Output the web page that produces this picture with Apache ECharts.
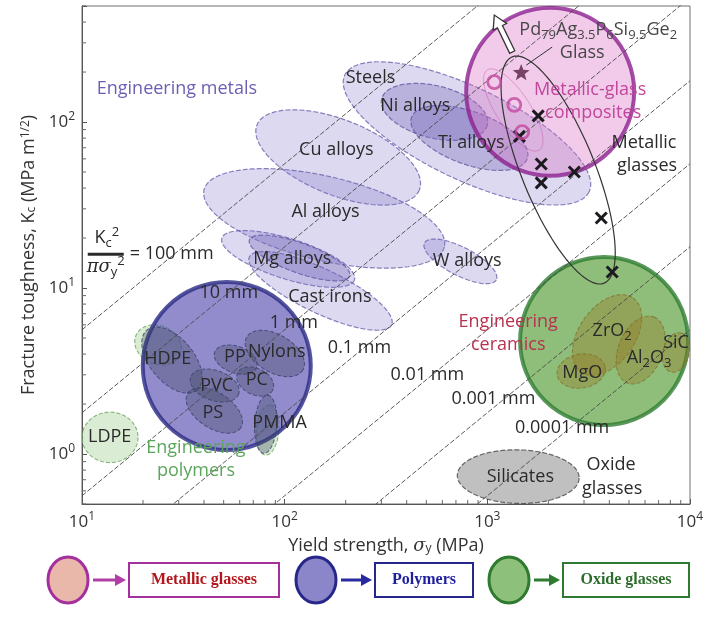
<!DOCTYPE html>
<html>
<head>
<meta charset="utf-8">
<script src="https://cdn.jsdelivr.net/npm/echarts/dist/echarts.min.js"></script>
<style>
html,body{margin:0;padding:0;background:#fff;}
#chart{width:705px;height:624px;}
</style>
</head>
<body>
<div id="chart"></div>
<script>
// ---------- axis decades ----------
const xDecades = [10, 100, 1000, 10000];
const yDecades = [1, 10, 100];

// ---------- design guidelines Kc^2 / (pi * sigma_y^2) = L ----------
const guideLengthsMm = [100, 10, 1, 0.1, 0.01, 0.001, 0.0001];
const guideLabelText = ['10 mm', '1 mm', '0.1 mm', '0.01 mm', '0.001 mm', '0.0001 mm'];
const guideLabelAnchor = [[53, 9.33], [111, 6.15], [234, 4.35], [506, 2.99], [1072, 2.14], [2339, 1.44]];

// ---------- property envelopes ----------
// [name, sigma_y at one end of long axis, Kc there, sigma_y at other end, Kc there, width / length]
const metalEnvelopes = [
  ['Steels', 198, 192, 3180, 38, 0.34],
  ['Cu alloys', 73, 96, 462, 39, 0.43],
  ['Al alloys', 40, 39, 614, 17.7, 0.34],
  ['Mg alloys', 49, 20, 221, 11.2, 0.29],
  ['Cast irons', 67, 15.4, 337, 6.0, 0.28],
  ['W alloys', 490, 18.7, 1107, 11.2, 0.35]
];
const metalCores = [
  ['Ni alloys', 301, 138, 1000, 96, 0.48],
  ['Ti alloys', 423, 107, 1574, 60, 0.43],
  ['Mg alloys core', 67, 19.5, 209, 11.8, 0.28]
];
const polymerBackdrop = [
  ['LDPE', 10, 1.26, 18.9, 1.26, 0.9],
  ['Elastomer side', 18.5, 5.21, 30.4, 3.95, 0.8],
  ['Acrylic side', 80.5, 0.986, 84.4, 1.97, 0.45]
];
const polymerEnvelopes = [
  ['HDPE', 20.9, 5.58, 36.9, 2.43, 0.56],
  ['PP', 45.2, 4.11, 72.8, 3.34, 0.6],
  ['Nylons', 65, 5.07, 123, 3.21, 0.58],
  ['PC', 58.6, 3.08, 87.3, 2.43, 0.67],
  ['PVC', 34.4, 2.91, 59.3, 2.30, 0.59],
  ['PS', 33.3, 2.33, 60.7, 1.44, 0.56],
  ['PMMA', 78.9, 1.01, 82.4, 2.26, 0.38]
];
const ceramicEnvelopes = [
  ['ZrO2', 2904, 3.12, 5236, 8.71, 0.62],
  ['Al2O3', 4898, 2.68, 6653, 6.68, 0.62],
  ['SiC', 8054, 3.12, 9036, 5.36, 0.65],
  ['MgO', 2213, 2.99, 3811, 3.34, 0.7]
];
const glassEnvelopes = [
  ['Silicates', 711, 0.746, 2838, 0.716, 0.44]
];
const metallicGlassEnvelope = [
  ['Metallic glasses', 1327, 247, 3767, 10.7, 0.30]
];
const compositeEnvelope = [
  ['Metallic-glass composites', 1000, 206, 1803, 67.8, 0.36]
];

// ---------- individual materials ----------
const glassSigma = [1782, 1439, 1845, 2686, 1845, 3648, 4131];
const glassK = [109, 82, 55.9, 50, 43, 26.4, 12.5];
const compositeSigma = [1082, 1358, 1486];
const compositeK = [174, 127, 87];
const pdGlass = [1469, 200];
const pdArrowTail = [1327, 264];
const pdArrowTip = [1082, 441];
const pdLeader = [[2089, 283], [1556, 220]];

// ---------- class highlights: metallic glasses, polymers, oxide glasses ----------
const classCenters = [[2042, 152], [51.8, 3.39], [3767, 4.80]];

// ---------- text annotations: [text, sigma_y, Kc, style] ----------
const annotations = [
  ['Engineering metals', 29.4, 158, 'metal'],
  ['Steels', 265, 184, 'dark'],
  ['Ni alloys', 441, 125, 'dark'],
  ['Ti alloys', 834, 74.6, 'dark'],
  ['Cu alloys', 180, 67.8, 'dark'],
  ['Al alloys', 159, 28.7, 'dark'],
  ['Mg alloys', 109, 15.0, 'dark'],
  ['Cast irons', 167, 8.83, 'dark'],
  ['W alloys', 796, 14.6, 'dark'],
  ['Pd{sub|79}Ag{sub|3.5}P{sub|6}Si{sub|9.5}Ge{sub|2}', 3524, 358, 'grey'],
  ['Glass', 2938, 261, 'grey'],
  ['Metallic-glass', 3214, 156, 'pink'],
  ['composites', 3327, 113, 'pink'],
  ['Metallic', 5929, 74.6, 'dark'],
  ['glasses', 6137, 54.3, 'dark'],
  ['Engineering', 1268, 6.24, 'ceramic'],
  ['ceramics', 1268, 4.54, 'ceramic'],
  ['ZrO{sub|2}', 4130, 5.51, 'dark'],
  ['Al{sub|2}O{sub|3}', 6282, 3.79, 'dark'],
  ['SiC', 8531, 4.67, 'dark'],
  ['MgO', 2938, 3.08, 'dark'],
  ['Silicates', 1455, 0.726, 'dark'],
  ['Oxide', 4083, 0.859, 'dark'],
  ['glasses', 4130, 0.615, 'dark'],
  ['HDPE', 26.5, 3.73, 'dark'],
  ['PP', 56.8, 3.84, 'dark'],
  ['Nylons', 91.4, 4.11, 'dark'],
  ['PC', 72.8, 2.79, 'dark'],
  ['PVC', 46.2, 2.57, 'dark'],
  ['PS', 44.2, 1.77, 'dark'],
  ['PMMA', 94.4, 1.54, 'dark'],
  ['LDPE', 13.7, 1.26, 'dark'],
  ['Engineering', 36.5, 1.09, 'polymer'],
  ['polymers', 36.5, 0.79, 'polymer'],
  ['= 100 mm', 27.7, 16.0, 'dark']
];
const fractionAnchor = [13.1, 16.0];

// ---------- drawing ----------
const FONT = '"Open Sans", "DejaVu Sans", sans-serif';
const FS = 18;
const TEXT_COLORS = {
  dark: '#2a2a2a', grey: '#474747', metal: '#6d5eb3', pink: '#c2479c',
  ceramic: '#b83250', polymer: '#5ba55b'
};

function richFor(color, size) {
  return {
    sub: { fill: color, fontSize: Math.round(size * 0.7), fontFamily: FONT, lineHeight: 8, verticalAlign: 'bottom' },
    sup: { fill: color, fontSize: Math.round(size * 0.7), fontFamily: FONT, lineHeight: 8, verticalAlign: 'top' },
    it: { fill: color, fontSize: size, fontFamily: '"DejaVu Serif", serif', fontStyle: 'italic', lineHeight: size + 6 }
  };
}

function envelope(list, style, z) {
  return {
    type: 'custom', z: z, silent: true,
    data: list.map(e => [e[1], e[2], e[3], e[4]]),
    encode: { x: [0, 2], y: [1, 3] },
    renderItem(params, api) {
      const e = list[params.dataIndex];
      const a = api.coord([e[1], e[2]]);
      const b = api.coord([e[3], e[4]]);
      const cx = (a[0] + b[0]) / 2, cy = (a[1] + b[1]) / 2;
      const ux = (b[0] - a[0]) / 2, uy = (b[1] - a[1]) / 2;
      const vx = -uy * e[5], vy = ux * e[5];
      const pts = [];
      for (let i = 0; i < 96; i++) {
        const t = (i / 96) * Math.PI * 2;
        pts.push([cx + ux * Math.cos(t) + vx * Math.sin(t), cy + uy * Math.cos(t) + vy * Math.sin(t)]);
      }
      return { type: 'polygon', shape: { points: pts }, style: Object.assign({}, style) };
    }
  };
}

function starPath() {
  let d = '';
  for (let i = 0; i < 10; i++) {
    const r = i % 2 ? 0.42 : 1;
    const a = -Math.PI / 2 + i * Math.PI / 5;
    d += (i ? 'L' : 'M') + (r * Math.cos(a)).toFixed(3) + ',' + (r * Math.sin(a)).toFixed(3);
  }
  return 'path://' + d + 'Z';
}

function decadeLabel(v) {
  const e = Math.log10(v);
  if (Math.abs(e - Math.round(e)) > 1e-6) return '';
  return '{b|10}{s|' + Math.round(e) + '}';
}
const tickRich = {
  b: { fontSize: 17, fontFamily: FONT, color: '#333', lineHeight: 22 },
  s: { fontSize: 12, fontFamily: FONT, color: '#333', lineHeight: 8, verticalAlign: 'top' }
};

const minorX = [], minorY = [];
[10, 100, 1000].forEach(d => { for (let m = 2; m <= 9; m++) minorX.push(m * d); });
[0.1, 1, 10, 100].forEach(d => { for (let m = 2; m <= 9; m++) { const v = m * d; if (v >= 0.5 && v <= 500) minorY.push(v); } });

const series = [];

// polymer backdrop (light green)
series.push(envelope(polymerBackdrop, {
  fill: 'rgba(150,200,130,0.35)', stroke: 'rgba(110,170,100,0.85)', lineWidth: 1.1, lineDash: [4, 2]
}, 2));

// metals
series.push(envelope(metalEnvelopes, {
  fill: 'rgba(130,120,200,0.28)', stroke: 'rgba(100,90,170,0.75)', lineWidth: 1.2, lineDash: [5, 2]
}, 3));
series.push(envelope(metalCores, {
  fill: 'rgba(110,95,180,0.32)', stroke: 'rgba(95,80,160,0.75)', lineWidth: 1.2, lineDash: [5, 2]
}, 3));

// silicate glasses
series.push(envelope(glassEnvelopes, {
  fill: 'rgba(150,150,150,0.6)', stroke: 'rgba(70,70,70,0.8)', lineWidth: 1.2, lineDash: [5, 2]
}, 3));

// class highlight circles
const circleStyles = [
  { color: 'rgba(215,110,195,0.45)', borderColor: '#8c2190', borderWidth: 4 },
  { color: 'rgba(95,85,180,0.85)', borderColor: '#2b2a85', borderWidth: 4 },
  { color: 'rgba(90,160,60,0.85)', borderColor: '#2f7d32', borderWidth: 4 }
];
series.push({
  type: 'scatter', z: 4, silent: true, symbol: 'circle', symbolSize: 168,
  data: classCenters.map((c, i) => ({ value: c, itemStyle: circleStyles[i] }))
});

// polymer and ceramic families on top of the highlights
series.push(envelope(polymerEnvelopes, {
  fill: 'rgba(60,70,90,0.33)', stroke: 'rgba(60,70,110,0.8)', lineWidth: 1.1, lineDash: [4, 2]
}, 5));
series.push(envelope(ceramicEnvelopes, {
  fill: 'rgba(150,120,40,0.38)', stroke: 'rgba(130,110,40,0.7)', lineWidth: 1.1, lineDash: [4, 2]
}, 5));

// design guidelines
guideLengthsMm.forEach(L => {
  const c = Math.sqrt(Math.PI * L / 1000);
  series.push({
    type: 'line', z: 6, silent: true, symbol: 'none', clip: true,
    data: [[10, 10 * c], [10000, 10000 * c]],
    lineStyle: { color: '#4a4a4a', width: 0.9, type: [5, 2] }
  });
});

// metallic glass region outlines
series.push(envelope(metallicGlassEnvelope, { fill: 'none', stroke: '#333', lineWidth: 1.2 }, 7));
series.push(envelope(compositeEnvelope, { fill: 'none', stroke: 'rgba(200,80,170,0.45)', lineWidth: 1 }, 7));

// leader line to the Pd-based glass
series.push({
  type: 'line', z: 7, silent: true, symbol: 'none', data: pdLeader,
  lineStyle: { color: '#333', width: 1 }
});

// hollow arrow pointing off the top of the chart
series.push({
  type: 'custom', z: 7, silent: true, data: [pdArrowTail.concat(pdArrowTip)],
  encode: { x: [0, 2], y: [1, 3] },
  renderItem(params, api) {
    const t = api.coord(pdArrowTail), h = api.coord(pdArrowTip);
    const len = Math.hypot(h[0] - t[0], h[1] - t[1]);
    const dx = (h[0] - t[0]) / len, dy = (h[1] - t[1]) / len;
    const nx = -dy, ny = dx;
    const sw = 2.8, hw = 7.5, hl = 13;
    const nk = [h[0] - dx * hl, h[1] - dy * hl];
    const pts = [
      [t[0] + nx * sw, t[1] + ny * sw], [nk[0] + nx * sw, nk[1] + ny * sw], [nk[0] + nx * hw, nk[1] + ny * hw],
      h, [nk[0] - nx * hw, nk[1] - ny * hw], [nk[0] - nx * sw, nk[1] - ny * sw], [t[0] - nx * sw, t[1] - ny * sw]
    ];
    return { type: 'polygon', shape: { points: pts }, style: { fill: '#fff', stroke: '#333', lineWidth: 1.3 } };
  }
});

// metallic-glass composites (open circles)
series.push({
  type: 'scatter', z: 8, silent: true, symbol: 'circle', symbolSize: 13,
  data: compositeSigma.map((s, i) => [s, compositeK[i]]),
  itemStyle: { color: 'rgba(255,255,255,0)', borderColor: '#c4479f', borderWidth: 2.8 }
});

// bulk metallic glasses (crosses)
series.push({
  type: 'custom', z: 8, silent: true,
  data: glassSigma.map((s, i) => [s, glassK[i]]),
  renderItem(params, api) {
    const p = api.coord([api.value(0), api.value(1)]);
    const r = 5.5;
    const st = { stroke: '#1d1a1f', lineWidth: 3 };
    return {
      type: 'group', children: [
        { type: 'line', shape: { x1: p[0] - r, y1: p[1] - r, x2: p[0] + r, y2: p[1] + r }, style: st },
        { type: 'line', shape: { x1: p[0] - r, y1: p[1] + r, x2: p[0] + r, y2: p[1] - r }, style: st }
      ]
    };
  }
});

// Pd-based glass (star)
series.push({
  type: 'scatter', z: 8, silent: true, symbol: starPath(), symbolKeepAspect: true, symbolSize: 17,
  data: [pdGlass], itemStyle: { color: '#5a1f47' }
});

// minor ticks (log spacing)
series.push({
  type: 'custom', z: 9, silent: true,
  data: minorX.map(v => [v, 0.5]),
  renderItem(params, api) {
    const p = api.coord([api.value(0), 0.5]);
    const b = params.coordSys.y + params.coordSys.height;
    return { type: 'line', shape: { x1: p[0], y1: b, x2: p[0], y2: b - 4 }, style: { stroke: '#666', lineWidth: 1 } };
  }
});
series.push({
  type: 'custom', z: 9, silent: true,
  data: minorY.map(v => [10, v]),
  renderItem(params, api) {
    const p = api.coord([10, api.value(1)]);
    const l = params.coordSys.x;
    return { type: 'line', shape: { x1: l, y1: p[1], x2: l + 4, y2: p[1] }, style: { stroke: '#666', lineWidth: 1 } };
  }
});

// text annotations
const allText = annotations.concat(guideLabelText.map((t, i) => [t, guideLabelAnchor[i][0], guideLabelAnchor[i][1], 'dark']));
series.push({
  type: 'custom', z: 10, silent: true,
  data: allText.map(t => [t[1], t[2]]),
  renderItem(params, api) {
    const t = allText[params.dataIndex];
    const p = api.coord([t[1], t[2]]);
    const color = TEXT_COLORS[t[3]];
    return {
      type: 'text', x: p[0], y: p[1],
      style: {
        text: t[0], fill: color, fontSize: FS, fontFamily: FONT, lineHeight: FS + 6,
        align: 'center', verticalAlign: 'middle', rich: richFor(color, FS)
      }
    };
  }
});

// Kc^2 / (pi sigma_y^2) fraction
series.push({
  type: 'custom', z: 10, silent: true, data: [fractionAnchor],
  renderItem(params, api) {
    const p = api.coord(fractionAnchor);
    const color = '#2a2a2a';
    const rich = richFor(color, FS);
    return {
      type: 'group', children: [
        { type: 'text', x: p[0] + 1, y: p[1] - 16, style: { text: 'K{sub|c}{sup|2}', fill: color, fontSize: FS, fontFamily: FONT, lineHeight: FS + 6, align: 'center', verticalAlign: 'middle', rich: rich } },
        { type: 'rect', shape: { x: p[0] - 18, y: p[1] - 1.5, width: 36, height: 3 }, style: { fill: color } },
        { type: 'text', x: p[0], y: p[1] + 13, style: { text: '{it|πσ}{sub|y}{sup|2}', fill: color, fontSize: FS, fontFamily: FONT, lineHeight: FS + 6, align: 'center', verticalAlign: 'middle', rich: rich } }
      ]
    };
  }
});

// ---------- legend strip ----------
function legendItem(cx, oval, stroke, arrowColor, boxX, boxW, label, textColor) {
  const cy = 580;
  return [
    { type: 'ellipse', shape: { cx: cx, cy: cy, rx: 20, ry: 23 }, style: { fill: oval, stroke: stroke, lineWidth: 3 } },
    { type: 'line', shape: { x1: cx + 25, y1: cy, x2: boxX - 10, y2: cy }, style: { stroke: arrowColor, lineWidth: 3 } },
    { type: 'polygon', shape: { points: [[boxX - 14, cy - 6], [boxX - 3, cy], [boxX - 14, cy + 6]] }, style: { fill: arrowColor } },
    { type: 'rect', shape: { x: boxX, y: cy - 17, width: boxW, height: 34 }, style: { fill: '#fff', stroke: stroke, lineWidth: 2 } },
    { type: 'text', x: boxX + boxW / 2, y: cy, style: { text: label, fill: textColor, font: 'bold 16px "Liberation Serif", "DejaVu Serif", serif', align: 'center', verticalAlign: 'middle' } }
  ];
}
const legendGraphics = [].concat(
  legendItem(68, '#e9b8ab', '#a3309d', '#b13fa6', 129, 150, 'Metallic glasses', '#b2161c'),
  legendItem(316, '#8b86c9', '#27278a', '#2a2aa0', 375, 98, 'Polymers', '#1f1f9e'),
  legendItem(509, '#8dc17b', '#2e7a2e', '#2e7a2e', 563, 126, 'Oxide glasses', '#2d6c2d')
);

const option = {
  backgroundColor: '#fff',
  animation: false,
  grid: {
    left: 82, right: 15, top: 6, bottom: 120, containLabel: false, outerBoundsMode: 'none',
    show: true, borderColor: '#6e6e6e', borderWidth: 1, backgroundColor: 'transparent'
  },
  xAxis: {
    type: 'log', logBase: 10, min: xDecades[0], max: xDecades[xDecades.length - 1],
    name: 'Yield strength, {it|σ}{sub|y} (MPa)', nameLocation: 'middle', nameGap: 33,
    nameTextStyle: {
      fontSize: 18, fontFamily: FONT, color: '#333',
      rich: {
        it: { fontSize: 18, fontFamily: '"DejaVu Serif", serif', fontStyle: 'italic', color: '#333' },
        sub: { fontSize: 12, fontFamily: FONT, color: '#333', lineHeight: 8, verticalAlign: 'bottom' }
      }
    },
    axisLine: { show: true, lineStyle: { color: '#555', width: 1 } },
    axisTick: { show: true, inside: true, length: 5, lineStyle: { color: '#555' } },
    axisLabel: { formatter: decadeLabel, rich: tickRich, margin: 7 },
    splitLine: { show: false }
  },
  yAxis: {
    type: 'log', logBase: 10, min: 0.5, max: 500,
    name: 'Fracture toughness, K{sub|c} (MPa m{sup|1/2})', nameLocation: 'middle', nameGap: 44,
    nameTextStyle: {
      fontSize: 18, fontFamily: FONT, color: '#333',
      rich: {
        sub: { fontSize: 12, fontFamily: FONT, color: '#333', lineHeight: 8, verticalAlign: 'bottom' },
        sup: { fontSize: 12, fontFamily: FONT, color: '#333', lineHeight: 8, verticalAlign: 'top' }
      }
    },
    axisLine: { show: true, lineStyle: { color: '#555', width: 1 } },
    axisTick: { show: true, inside: true, length: 5, lineStyle: { color: '#555' } },
    axisLabel: { formatter: decadeLabel, rich: tickRich, margin: 7 },
    splitLine: { show: false }
  },
  graphic: legendGraphics,
  series: series
};

const chart = echarts.init(document.getElementById('chart'));
chart.setOption(option);
</script>
</body>
</html>
